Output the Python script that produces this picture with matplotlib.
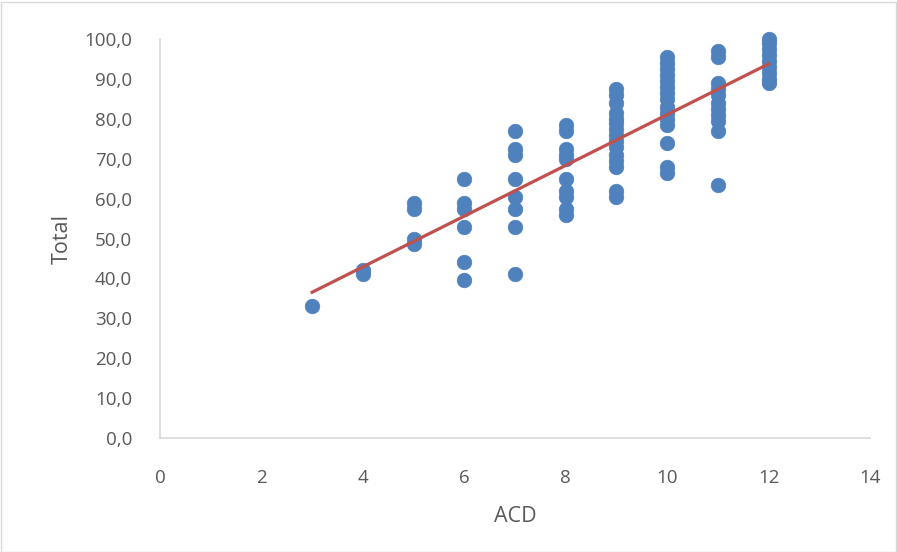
import matplotlib
matplotlib.use("Agg")
import matplotlib.pyplot as plt
import numpy as np
from matplotlib.patches import Rectangle
from matplotlib.ticker import FuncFormatter

# Scores, grouped by ACD value
acd_3 = [33.0]
acd_4 = [42.0, 41.0]
acd_5 = [59.0, 57.5, 50.0, 48.5]
acd_6 = [65.0, 59.0, 57.5, 53.0, 44.0, 39.5]
acd_7 = [77.0, 72.5, 71.0, 65.0, 60.5, 57.5, 53.0, 41.0]
acd_8 = [78.5, 77.0, 72.5, 71.0, 70.0, 65.0, 62.0, 60.5, 57.5, 56.0]
acd_9 = [87.5, 86.0, 84.0, 81.5, 80.0, 79.0, 77.5, 76.0, 74.5, 73.0, 71.0, 69.5, 68.0, 62.0, 60.5]
acd_10 = [95.5, 94.0, 92.5, 91.0, 89.5, 88.0, 86.5, 85.0, 83.0, 81.5, 80.0, 78.5, 74.0, 68.0, 66.5]
acd_11 = [97.0, 95.5, 89.0, 87.5, 86.0, 84.0, 82.5, 81.0, 79.5, 77.0, 63.5]
acd_12 = [100.0, 99.0, 97.5, 96.0, 94.5, 93.0, 91.5, 90.0, 89.0]

groups = {3: acd_3, 4: acd_4, 5: acd_5, 6: acd_6, 7: acd_7,
          8: acd_8, 9: acd_9, 10: acd_10, 11: acd_11, 12: acd_12}

x = np.array([k for k, v in groups.items() for _ in v], dtype=float)
y = np.array([val for v in groups.values() for val in v])

plt.rcParams["font.family"] = ["Open Sans", "DejaVu Sans"]

fig = plt.figure(figsize=(8.97, 5.52), dpi=100)
ax = fig.add_axes([160 / 897, 1 - 438 / 552, 710 / 897, 399 / 552])

ax.scatter(x, y, s=110, color="#4f81bd", edgecolors="#4f81bd", linewidths=0.5,
           zorder=2, clip_on=False)

# linear trend line
slope, intercept = np.polyfit(x, y, 1)
xs = np.array([x.min(), x.max()])
ax.plot(xs, slope * xs + intercept, color="#c0504d", lw=2.3, zorder=3)

ax.set_xlim(0, 14)
ax.set_ylim(0, 100)
ax.set_xticks(range(0, 15, 2))
ax.set_yticks(range(0, 101, 10))
ax.yaxis.set_major_formatter(FuncFormatter(lambda v, _: f"{v:.1f}".replace(".", ",")))
ax.tick_params(length=0, labelsize=13.5, labelcolor="#595959")
ax.tick_params(axis="y", pad=20)
ax.tick_params(axis="x", pad=22)

for side in ["top", "right"]:
    ax.spines[side].set_visible(False)
for side in ["left", "bottom"]:
    ax.spines[side].set_color("#d9d9d9")
    ax.spines[side].set_linewidth(1.2)

ax.set_xlabel("ACD", fontsize=15.5, color="#595959", labelpad=14)
ax.set_ylabel("Total", fontsize=15.5, color="#595959", labelpad=8)

# light frame around the chart area
fig.patches.append(Rectangle((0.5 / 897, 0.5 / 552), 895 / 897, 550 / 552, transform=fig.transFigure,
                             fill=False, edgecolor="#d9d9d9", lw=1))

fig.savefig("out.png", dpi=100)
